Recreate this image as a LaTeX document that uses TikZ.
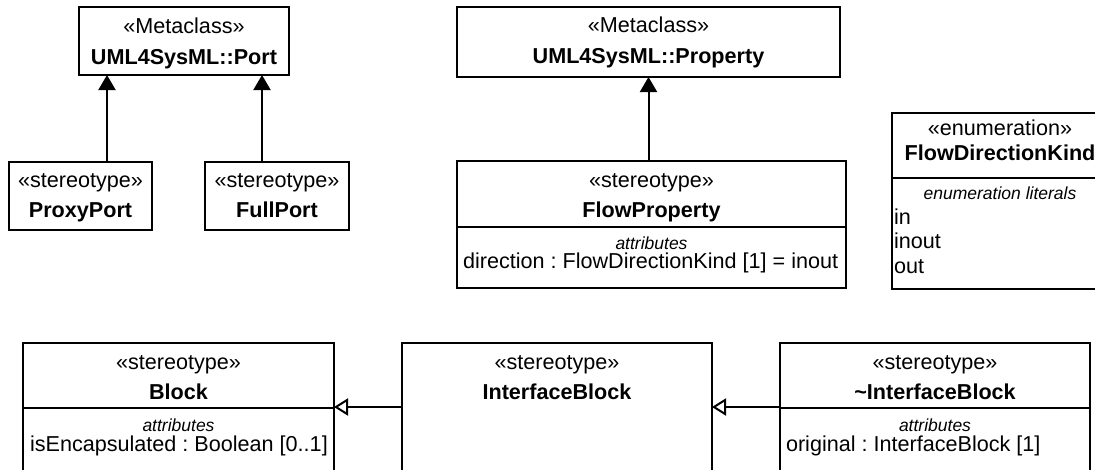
\documentclass[tikz,border=0pt]{standalone}
\usepackage{fontspec}
\setmainfont{Liberation Sans}
\usetikzlibrary{arrows.meta}
\frenchspacing

\begin{document}
\begin{tikzpicture}[x=1pt, y=-1pt, line width=2pt,
  every node/.style={font=\fontsize{21.6pt}{24pt}\selectfont, inner sep=0pt, outer sep=0pt},
  box/.style={draw, line width=2pt, rectangle},
  st/.style={anchor=base},
  nm/.style={anchor=base, font=\fontsize{21.6pt}{24pt}\selectfont\bfseries},
  hd/.style={anchor=base, font=\fontsize{17.5pt}{20pt}\selectfont\itshape},
  lit/.style={anchor=base west},
  ext/.style={-{Triangle[length=15pt, width=17pt]}},
  gen/.style={-{Triangle[open, length=14pt, width=17pt]}}]
  \useasboundingbox (0,0) rectangle (1095,469);
  \clip (0,0) rectangle (1095,469);
  % boxes
  \node[box, minimum width=210pt, minimum height=68pt] (port) at (184,41) {};
  \node[box, minimum width=143pt, minimum height=68pt] (proxy) at (80.5,196) {};
  \node[box, minimum width=144pt, minimum height=68pt] (full) at (277,196) {};
  \node[box, minimum width=383pt, minimum height=70pt] (prop) at (648.5,42) {};
  \node[box, minimum width=389pt, minimum height=127pt] (flowprop) at (651.5,224.5) {};
  \node[box, minimum width=216pt, minimum height=176pt] (fdk) at (1000,201) {};
  \node[box, minimum width=311pt, minimum height=157pt] (block) at (178.5,421.5) {};
  \node[box, minimum width=310pt, minimum height=157pt] (iblock) at (557,421.5) {};
  \node[box, minimum width=310pt, minimum height=157pt] (cblock) at (935,421.5) {};
  % compartments
  \coordinate (d1) at (0,227); \coordinate (d2) at (0,178); \coordinate (d3) at (0,408);
  \draw (flowprop.west |- d1) -- (flowprop.east |- d1);
  \draw (fdk.west |- d2) -- (fdk.east |- d2);
  \draw (block.west |- d3) -- (block.east |- d3);
  \draw (cblock.west |- d3) -- (cblock.east |- d3);
  % texts
  \node[st] (port-st) at (184,33) {«Metaclass»};
  \node[nm] (port-nm) at (184,64) {UML4SysML::Port};
  \node[st] (proxy-st) at (80.5,187) {«stereotype»};
  \node[nm] (proxy-nm) at (80.5,217) {ProxyPort};
  \node[st] (full-st) at (277,187) {«stereotype»};
  \node[nm] (full-nm) at (277,217) {FullPort};
  \node[st] (prop-st) at (648.5,32) {«Metaclass»};
  \node[nm] (prop-nm) at (648.5,63) {UML4SysML::Property};
  \node[st] (flowprop-st) at (651.5,187) {«stereotype»};
  \node[nm] (flowprop-nm) at (651.5,217) {FlowProperty};
  \node[hd] (flowprop-hd) at (651.5,249) {attributes};
  \node[lit] (flowprop-a1) at (463,268) {direction : FlowDirectionKind [1] = inout};
  \node[st] (fdk-st) at (1000,135) {«enumeration»};
  \node[nm] (fdk-nm) at (1000,160) {FlowDirectionKind};
  \node[hd] (fdk-hd) at (1000,199) {enumeration literals};
  \node[lit] (fdk-l1) at (894,224) {in};
  \node[lit] (fdk-l2) at (894,248) {inout};
  \node[lit] (fdk-l3) at (894,273) {out};
  \node[st] (block-st) at (178.5,369) {«stereotype»};
  \node[nm] (block-nm) at (178.5,399) {Block};
  \node[hd] (block-hd) at (178.5,431) {attributes};
  \node[lit] (block-a1) at (30,451) {isEncapsulated : Boolean [0..1]};
  \node[st] (iblock-st) at (557,369) {«stereotype»};
  \node[nm] (iblock-nm) at (557,399) {InterfaceBlock};
  \node[st] (cblock-st) at (935,369) {«stereotype»};
  \node[nm] (cblock-nm) at (935,399) {\textasciitilde InterfaceBlock};
  \node[hd] (cblock-hd) at (935,431) {attributes};
  \node[lit] (cblock-a1) at (786,451) {original : InterfaceBlock [1]};
  % extensions and generalizations
  \coordinate (pa) at (107,0); \coordinate (fa) at (262,0); \coordinate (ga) at (0,407);
  \draw[ext] (proxy.north -| pa) -- (port.south -| pa);
  \draw[ext] (full.north -| fa) -- (port.south -| fa);
  \draw[ext] (prop.south |- flowprop.north) -- (prop.south);
  \draw[gen] (iblock.west |- ga) -- (block.east |- ga);
  \draw[gen] (cblock.west |- ga) -- (iblock.east |- ga);
\end{tikzpicture}
\end{document}
